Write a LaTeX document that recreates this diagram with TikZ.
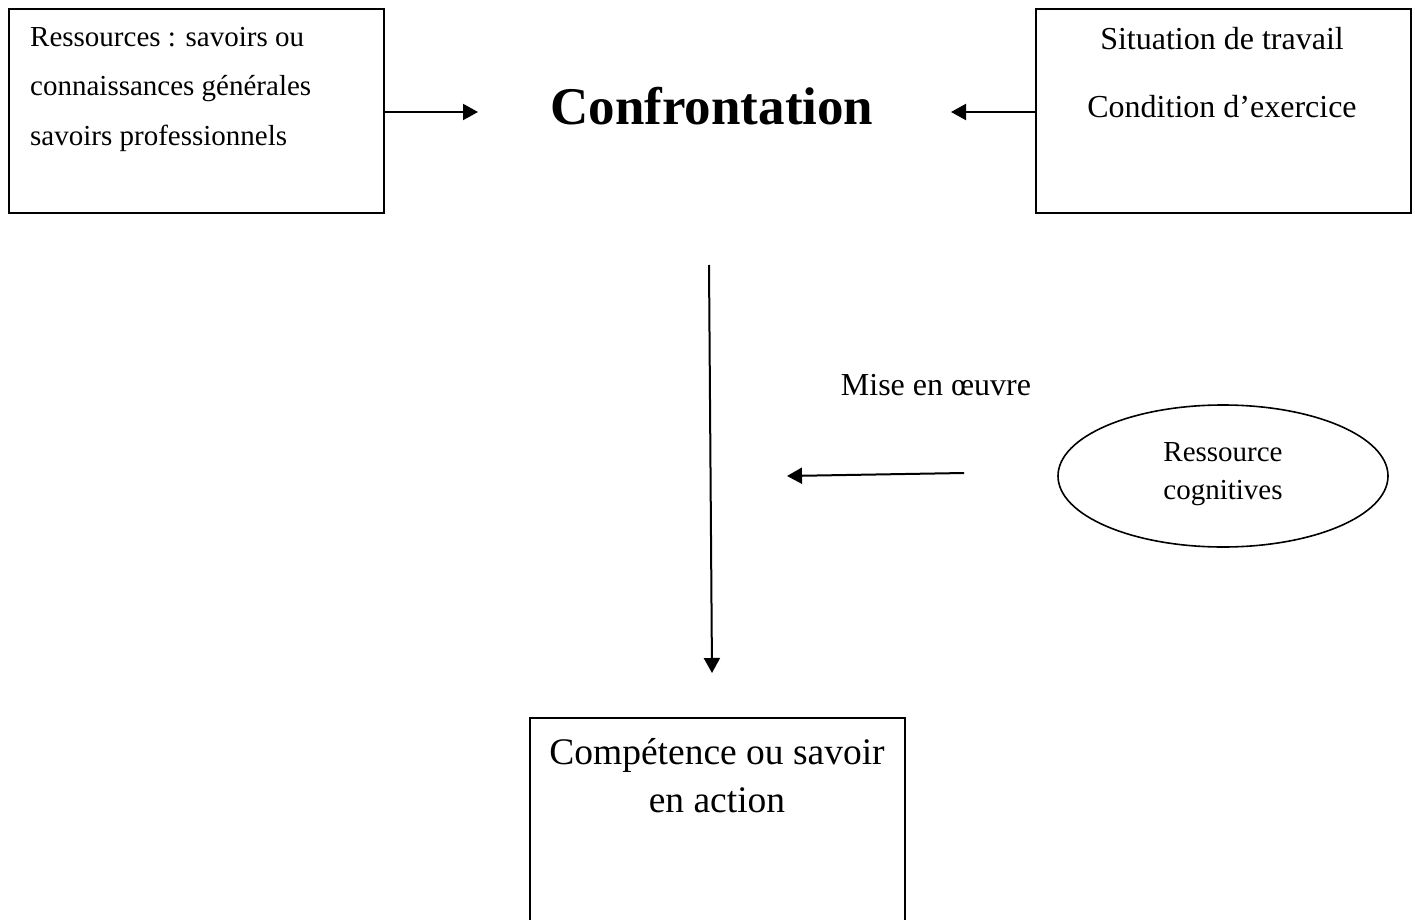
\documentclass[tikz,border=0pt]{standalone}
\usepackage{fontspec}
\setmainfont{Liberation Serif}
\usetikzlibrary{arrows.meta,shapes.geometric}
\begin{document}
\begin{tikzpicture}[x=1pt,y=-1pt,
  frame/.style={draw,rectangle,line width=2pt,inner sep=0pt,anchor=north west},
  txt/.style={inner sep=0pt,anchor=base},
  link/.style={line width=2pt,-{Triangle[length=15pt,width=16pt]}}]
\useasboundingbox[fill=white] (0,0) rectangle (1415,920);

% boxes
\node[frame,minimum width=375pt,minimum height=204pt] (res) at (8,8) {};
\node[frame,minimum width=375pt,minimum height=204pt] (sit) at (1035,8) {};
\node[frame,minimum width=375pt,minimum height=260pt] (comp) at (529,717) {};
\node[draw,ellipse,line width=1.6pt,minimum width=330pt,minimum height=142pt] (cog) at (1223,476) {};

% left box text
\begin{scope}[font=\fontsize{29}{35}\selectfont]
\node[txt,anchor=base west] (r1) at (30,47) {Ressources : savoirs ou};
\node[txt,anchor=base west] (r2) at (30,96) {connaissances générales};
\node[txt,anchor=base west] (r3) at (30,146) {savoirs professionnels};
\end{scope}

% right box text
\begin{scope}[font=\fontsize{32}{38}\selectfont]
\node[txt] (s1) at (1222,50) {Situation de travail};
\node[txt] (s2) at (1222,118) {Condition d’exercice};
\node[txt] (mise) at (936,395) {Mise en œuvre};
\end{scope}

% central title
\node[txt,font=\fontsize{53}{60}\selectfont\bfseries] (conf) at (712,125) {Confrontation};

% ellipse text
\begin{scope}[font=\fontsize{29}{35}\selectfont]
\node[txt] (c1) at (1223,461) {Ressource};
\node[txt] (c2) at (1223,499) {cognitives};
\end{scope}

% bottom box text
\begin{scope}[font=\fontsize{37.5}{45}\selectfont]
\node[txt] (k1) at (717,764) {Compétence ou savoir};
\node[txt] (k2) at (717,812) {en action};
\end{scope}

% connector ends
\coordinate (confL) at (478,112);
\coordinate (confR) at (951,112);
\coordinate (vtop) at (709,265);
\coordinate (vtip) at (712,673);
\coordinate (mstart) at (964,473);
\coordinate (mtip) at (787,476);

% connectors
\draw[link] (res.east |- confL) -- (confL);
\draw[link] (sit.west |- confR) -- (confR);
\draw[link] (vtop) -- (vtip);
\draw[link] (mstart) -- (mtip);
\end{tikzpicture}
\end{document}
